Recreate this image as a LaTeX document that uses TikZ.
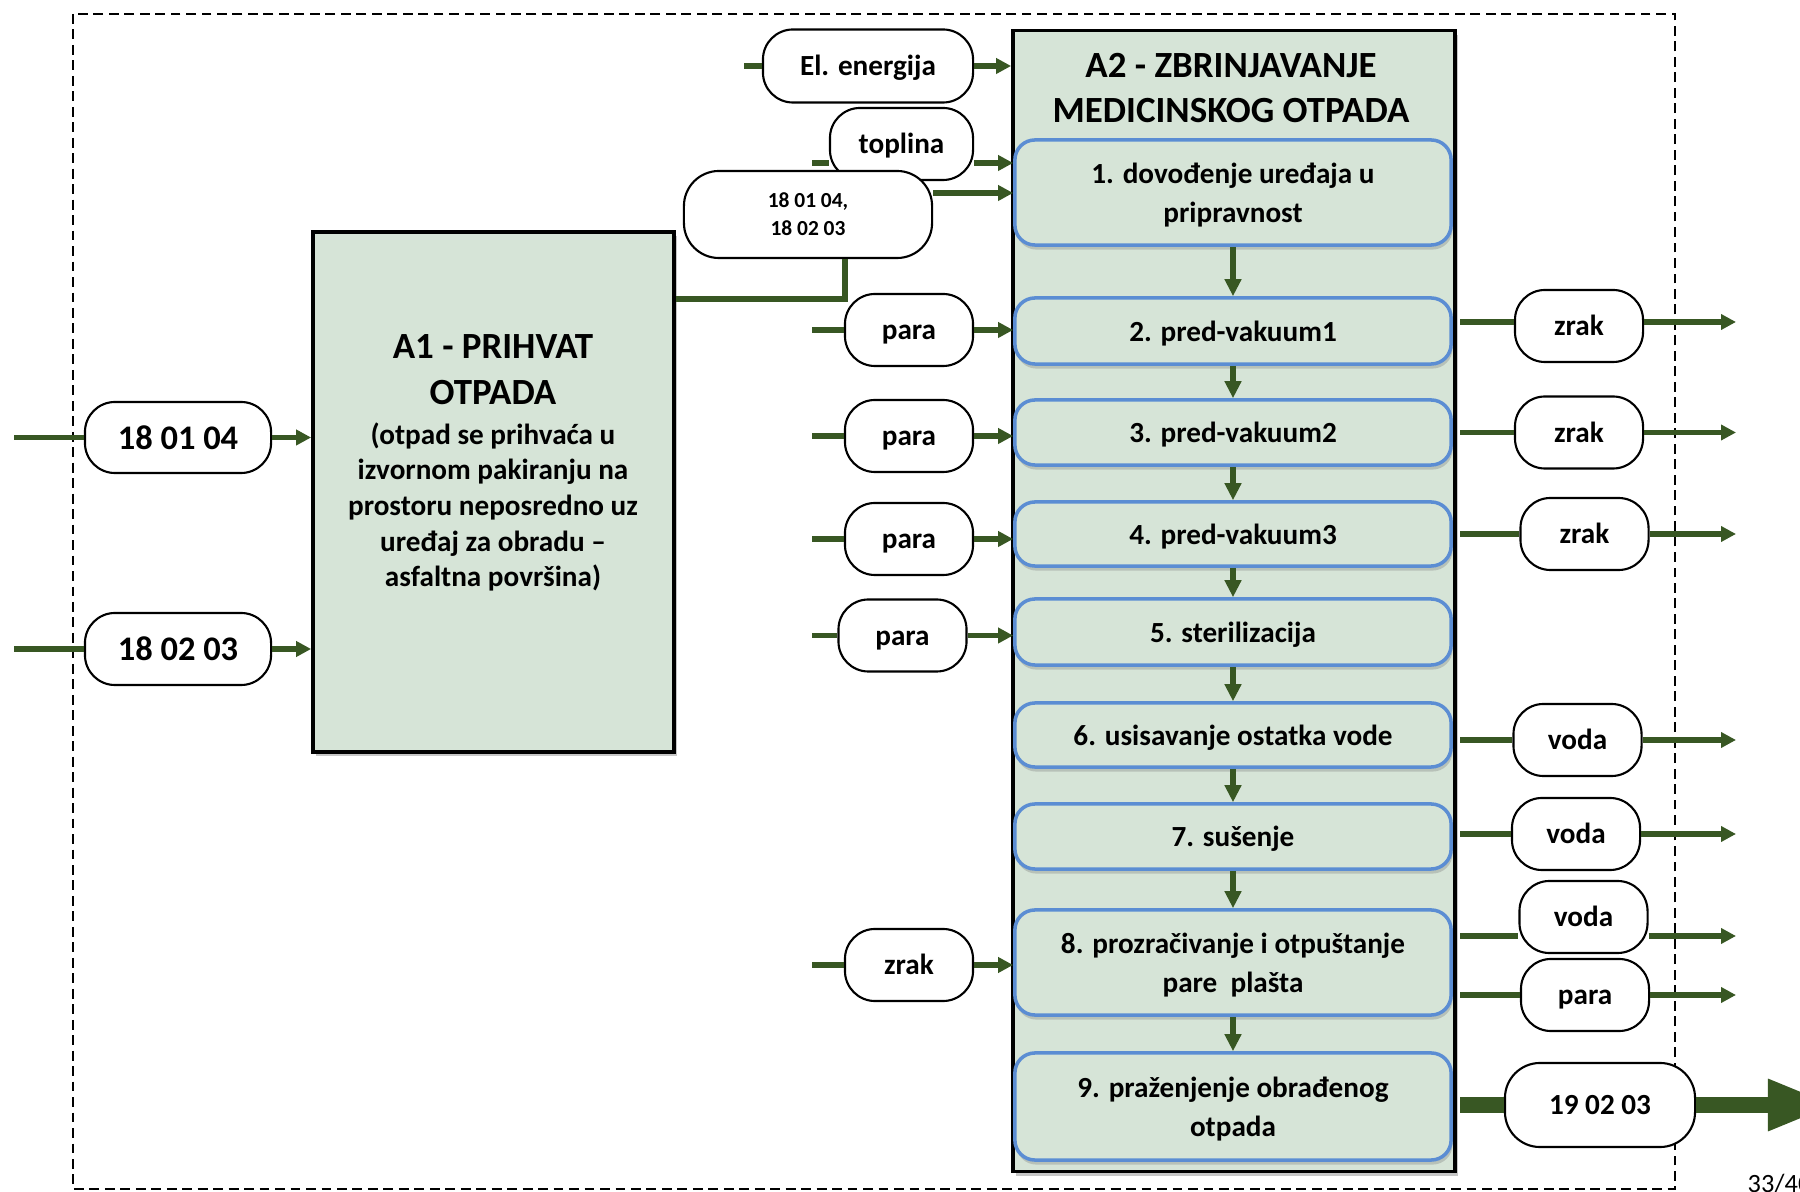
\documentclass[tikz,border=0pt]{standalone}
\usepackage{fontspec}
\setmainfont{Carlito}
\usetikzlibrary{arrows.meta,shadows,positioning}
\definecolor{flowgreen}{RGB}{56,87,35}
\definecolor{boxfill}{RGB}{214,228,215}
\definecolor{stepblue}{RGB}{91,141,211}

\begin{document}
\begin{tikzpicture}[x=0.01cm,y=-0.01cm,
    >={Triangle[length=0.15cm,width=0.15cm]},
    flow/.style={draw=flowgreen,line width=1.7pt},
    flowarr/.style={flow,->},
    downarr/.style={draw=flowgreen,line width=1.6pt,-{Triangle[length=0.17cm,width=0.16cm]}},
    term/.style={draw,fill=white,line width=0.6pt,rounded corners=0.3cm,minimum width=1.28cm,minimum height=0.72cm,inner sep=0pt,align=center,font=\bfseries\fontsize{8.3}{10}\selectfont},
    termtext/.style={term,text height=5.6pt,text depth=0pt},
    stepbox/.style={draw=stepblue,line width=1pt,fill=boxfill,rounded corners=0.2cm,minimum width=4.36cm,inner sep=0pt,align=center,text depth=0pt,font=\bfseries\fontsize{8.3}{11}\selectfont,drop shadow={shadow xshift=0.4pt,shadow yshift=-1.3pt,opacity=0.35}},
    actbox/.style={draw,line width=1pt,fill=boxfill,inner sep=0pt,drop shadow={shadow xshift=0.8pt,shadow yshift=-1.2pt,opacity=0.45}}]

\useasboundingbox (0,0) rectangle (1800,1192);

% granica sustava
\draw[dash pattern=on 2.8pt off 1.6pt,line width=0.7pt] (73,14) rectangle (1675,1189);

% A1
\node[actbox,minimum width=3.61cm,minimum height=5.2cm] (a1) at (493.5,492) {};
\node[align=center,font=\bfseries\fontsize{10.5}{13}\selectfont] (a1title) at (493,370) {A1 - PRIHVAT\\OTPADA};
\node[align=center,font=\bfseries\fontsize{8.3}{10.1}\selectfont,below=-0.07cm of a1title] (a1desc) {(otpad se prihvaća u\\izvornom pakiranju na\\prostoru neposredno uz\\uređaj za obradu --\\asfaltna površina)};

% ulazi u A1
\node[term,minimum width=1.86cm,minimum height=0.71cm,font=\bfseries\fontsize{9.8}{12}\selectfont] (in1) at (178,437.5) {18 01 04};
\node[term,minimum width=1.86cm,minimum height=0.72cm,font=\bfseries\fontsize{9.8}{12}\selectfont] (in2) at (178,649) {18 02 03};
\coordinate (edgeL) at (14,0);
\draw[flow] (in1.west -| edgeL) -- (in1.west);
\draw[flowarr] (in1.east) -- (in1.east -| a1.west);
\draw[flow] (in2.west -| edgeL) -- (in2.west);
\draw[flowarr] (in2.east) -- (in2.east -| a1.west);

% A2
\node[actbox,minimum width=4.42cm,minimum height=11.4cm] (a2) at (1234,601) {};
\node[align=center,font=\bfseries\fontsize{10.5}{13}\selectfont] (a2title) at (1231,88) {A2 - ZBRINJAVANJE\\MEDICINSKOG OTPADA};

\node[stepbox,minimum height=1.05cm] (s1) at (1233,192.5) {1. dovođenje uređaja u\\pripravnost};
\node[stepbox,minimum height=0.66cm] (s2) at (1233,331) {2. pred-vakuum1};
\node[stepbox,minimum height=0.65cm] (s3) at (1233,432.5) {3. pred-vakuum2};
\node[stepbox,minimum height=0.64cm] (s4) at (1233,534) {4. pred-vakuum3};
\node[stepbox,minimum height=0.66cm] (s5) at (1233,632) {5. sterilizacija};
\node[stepbox,minimum height=0.64cm] (s6) at (1233,735) {6. usisavanje ostatka vode};
\node[stepbox,minimum height=0.65cm] (s7) at (1233,836.5) {7. sušenje};
\node[stepbox,minimum height=1.05cm] (s8) at (1233,962.5) {8. prozračivanje i otpuštanje\\pare\ \ plašta};
\node[stepbox,minimum height=1.07cm] (s9) at (1233,1106.5) {9. praženjenje obrađenog\\otpada};

\draw[downarr] (s1.south) -- (s2.north);
\draw[downarr] (s2.south) -- (s3.north);
\draw[downarr] (s3.south) -- (s4.north);
\draw[downarr] (s4.south) -- (s5.north);
\draw[downarr] (s5.south) -- (s6.north);
\draw[downarr] (s6.south) -- (s7.north);
\draw[downarr] (s7.south) -- (s8.north);
\draw[downarr] (s8.south) -- (s9.north);

% ulazi u A2
\node[termtext,minimum width=2.1cm,minimum height=0.73cm] (elen) at (868,66) {El. energija};
\node[termtext,minimum width=1.43cm] (topl) at (901.5,144) {toplina};
\node[term,minimum width=2.48cm,minimum height=0.87cm,rounded corners=0.35cm,font=\bfseries\fontsize{6.1}{7.9}\selectfont] (mix) at (808,214.5) {18 01 04,\\18 02 03};
\node[termtext] (para1) at (909,330) {para};
\node[termtext] (para2) at (909,436) {para};
\node[termtext] (para3) at (909,539) {para};
\node[termtext] (para4) at (902.5,635.5) {para};
\node[termtext] (zrakL) at (909,965) {zrak};

\coordinate (elin) at (744,0);
\coordinate (lin) at (812,0);
\coordinate (toplY) at (0,163);
\coordinate (mixY) at (0,193);

\draw[flow] (elen.west -| elin) -- (elen.west);
\draw[flowarr] (elen.east) -- (elen.east -| a2.west);
\draw[flow] (toplY -| lin) -- (toplY -| topl.west);
\draw[flowarr] (toplY -| topl.east) -- (toplY -| s1.west);
\draw[flowarr] (mixY -| mix.east) -- (mixY -| s1.west);
\draw[flow] ([yshift=-0.69cm]a1.north east) -| ([xshift=0.37cm]mix.south);

\draw[flow] (para1.west -| lin) -- (para1.west);
\draw[flowarr] (para1.east) -- (para1.east -| s2.west);
\draw[flow] (para2.west -| lin) -- (para2.west);
\draw[flowarr] (para2.east) -- (para2.east -| s3.west);
\draw[flow] (para3.west -| lin) -- (para3.west);
\draw[flowarr] (para3.east) -- (para3.east -| s4.west);
\draw[flow] (para4.west -| lin) -- (para4.west);
\draw[flowarr] (para4.east) -- (para4.east -| s5.west);
\draw[flow] (zrakL.west -| lin) -- (zrakL.west);
\draw[flowarr] (zrakL.east) -- (zrakL.east -| s8.west);

% izlazi iz A2
\node[termtext] (zrak1) at (1579,326) {zrak};
\node[termtext] (zrak2) at (1579,432.5) {zrak};
\node[termtext] (zrak3) at (1584.5,534) {zrak};
\node[termtext] (voda1) at (1577.5,740) {voda};
\node[termtext] (voda2) at (1576,834) {voda};
\node[termtext] (voda3) at (1583.5,917) {voda};
\node[termtext] (paraR) at (1585,995) {para};
\node[term,minimum width=1.9cm,minimum height=0.84cm,rounded corners=0.35cm] (out) at (1600,1105) {19 02 03};

\coordinate (rin) at (1460,0);
\coordinate (rout) at (1736,0);
\coordinate (zrakY) at (0,322);
\coordinate (vodaY) at (0,936);
\coordinate (bigend) at (1836,1105);

\draw[flow] (zrakY -| rin) -- (zrakY -| zrak1.west);
\draw[flowarr] (zrakY -| zrak1.east) -- (zrakY -| rout);
\draw[flow] (zrak2.west -| rin) -- (zrak2.west);
\draw[flowarr] (zrak2.east) -- (zrak2.east -| rout);
\draw[flow] (zrak3.west -| rin) -- (zrak3.west);
\draw[flowarr] (zrak3.east) -- (zrak3.east -| rout);
\draw[flow] (voda1.west -| rin) -- (voda1.west);
\draw[flowarr] (voda1.east) -- (voda1.east -| rout);
\draw[flow] (voda2.west -| rin) -- (voda2.west);
\draw[flowarr] (voda2.east) -- (voda2.east -| rout);
\draw[flow] (vodaY -| rin) -- (vodaY -| voda3.west);
\draw[flowarr] (vodaY -| voda3.east) -- (vodaY -| rout);
\draw[flow] (paraR.west -| rin) -- (paraR.west);
\draw[flowarr] (paraR.east) -- (paraR.east -| rout);
\draw[draw=flowgreen,line width=4.8pt] (out.west -| rin) -- (out.west);
\draw[draw=flowgreen,line width=4.8pt,-{Triangle[length=0.68cm,width=0.47cm]}] (out.east) -- (bigend);

\node[anchor=base west,inner sep=0pt,font=\fontsize{7.5}{9}\selectfont] (page) at (1747,1192) {33/40};
\end{tikzpicture}
\end{document}
